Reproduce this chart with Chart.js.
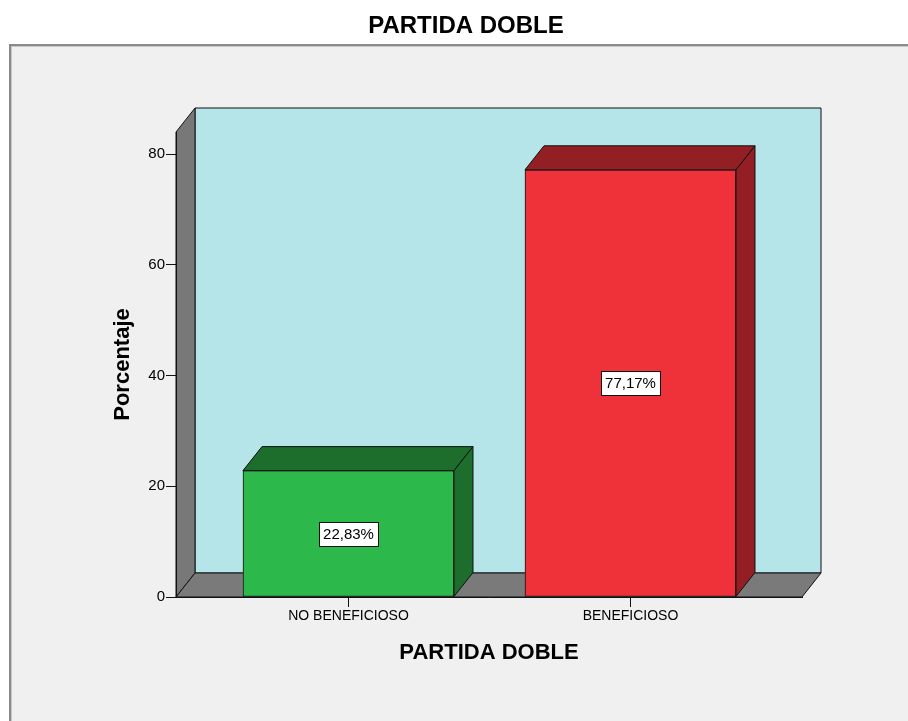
<!DOCTYPE html>
<html>
<head>
<meta charset="utf-8">
<script src="https://cdn.jsdelivr.net/npm/chart.js@4/dist/chart.umd.min.js"></script>
<style>
  body { margin: 0; background: #ffffff; }
  #wrap { width: 908px; height: 721px; }
</style>
</head>
<body>
<div id="wrap"><canvas id="myChart"></canvas></div>
<script>
var categorias = ['NO BENEFICIOSO', 'BENEFICIOSO'];
var porcentajes = [22.83, 77.17];
var colorFrente = ['#2db84b', '#ef323a'];
var colorLado = ['#1d6d2d', '#931e24'];
var yTicks = [0, 20, 40, 60, 80];

// profundidad del efecto 3D
var dx = 19, dy = 24;
var fuente = '"Liberation Sans", Arial, sans-serif';

function poly(ctx, pts, fill) {
    ctx.beginPath();
    ctx.moveTo(pts[0][0], pts[0][1]);
    for (var i = 1; i < pts.length; i++) ctx.lineTo(pts[i][0], pts[i][1]);
    ctx.closePath();
    ctx.fillStyle = fill;
    ctx.fill();
    ctx.stroke();
}

var fondo3d = {
    id: 'fondo3d',
    beforeDraw: function(chart) {
        var ctx = chart.ctx;
        var a = chart.chartArea;
        ctx.save();
        ctx.fillStyle = '#ffffff';
        ctx.fillRect(0, 0, chart.width, chart.height);
        // panel gris exterior
        ctx.fillStyle = '#f0f0f0';
        ctx.fillRect(9, 44, chart.width - 9, chart.height - 44);
        ctx.fillStyle = '#8a8a8a';
        ctx.fillRect(9, 44, chart.width - 9, 2);
        ctx.fillRect(9, 44, 2, chart.height - 44);
        ctx.fillStyle = '#c8c8c8';
        ctx.fillRect(11, 46, chart.width - 11, 1);
        ctx.fillRect(11, 46, 1, chart.height - 46);

        ctx.strokeStyle = '#111111';
        ctx.lineWidth = 1;
        // pared del fondo
        poly(ctx, [[a.left + dx, a.top - dy], [a.right + dx, a.top - dy], [a.right + dx, a.bottom - dy], [a.left + dx, a.bottom - dy]], '#b5e5e8');
        // pared izquierda
        poly(ctx, [[a.left, a.top], [a.left + dx, a.top - dy], [a.left + dx, a.bottom - dy], [a.left, a.bottom]], '#787878');
        // suelo
        poly(ctx, [[a.left, a.bottom], [a.left + dx, a.bottom - dy], [a.right + dx, a.bottom - dy], [a.right, a.bottom]], '#7a7a7a');
        ctx.restore();
    },
    afterDatasetsDraw: function(chart) {
        var ctx = chart.ctx;
        var meta = chart.getDatasetMeta(0);
        ctx.save();
        ctx.strokeStyle = '#111111';
        ctx.lineWidth = 1;
        meta.data.forEach(function(bar, i) {
            var l = bar.x - bar.width / 2, r = bar.x + bar.width / 2;
            var t = bar.y, b = bar.base;
            poly(ctx, [[l, t], [l + dx, t - dy], [r + dx, t - dy], [r, t]], colorLado[i]);
            poly(ctx, [[r, t], [r + dx, t - dy], [r + dx, b - dy], [r, b]], colorLado[i]);

            // etiqueta con el porcentaje
            var txt = porcentajes[i].toFixed(2).replace('.', ',') + '%';
            ctx.font = '15px ' + fuente;
            var w = Math.round(ctx.measureText(txt).width + 8);
            var cy = (t + b) / 2;
            var bx = Math.round(bar.x - w / 2) + 0.5, by = Math.round(cy - 12) + 0.5;
            ctx.fillStyle = '#ffffff';
            ctx.fillRect(bx, by, w, 24);
            ctx.strokeRect(bx, by, w, 24);
            ctx.fillStyle = '#000000';
            ctx.textAlign = 'center';
            ctx.textBaseline = 'middle';
            ctx.fillText(txt, bar.x, cy + 1);
        });
        ctx.restore();
    }
};

const ctx = document.getElementById('myChart');
chart = new Chart(ctx, {
    type: 'bar',
    data: {
        datasets: [{
            label: 'Porcentaje',
            data: porcentajes.map(function(v, i) { return { x: i + 1, y: v }; }),
            backgroundColor: colorFrente,
            borderColor: '#111111',
            borderWidth: 1,
            borderSkipped: false,
            barThickness: 211
        }]
    },
    options: {
        responsive: true,
        maintainAspectRatio: false,
        animation: false,
        layout: {
            padding: { left: 24, right: 0, top: 0, bottom: 0 }
        },
        plugins: {
            legend: { display: false },
            tooltip: { enabled: false },
            title: {
                display: true,
                text: 'PARTIDA DOBLE',
                color: '#000000',
                font: { family: fuente, size: 24, weight: 'bold' },
                padding: { top: 12, bottom: 91.2 }
            }
        },
        scales: {
            x: {
                type: 'linear',
                min: 0.3883,
                max: 2.6082,
                offset: false,
                afterBuildTicks: function(axis) {
                    axis.ticks = categorias.map(function(c, i) { return { value: i + 1 }; });
                },
                afterFit: function(scale) { scale.height = 124; },
                ticks: {
                    color: '#000000',
                    padding: 1,
                    maxRotation: 0,
                    font: { family: fuente, size: 14 },
                    callback: function(val) { return categorias[val - 1]; }
                },
                grid: {
                    display: true,
                    offset: false,
                    drawOnChartArea: false,
                    color: '#111111',
                    tickLength: 10
                },
                border: { display: true, color: '#111111' },
                title: {
                    display: true,
                    text: 'PARTIDA DOBLE',
                    color: '#000000',
                    font: { family: fuente, size: 22, weight: 'bold' },
                    padding: { top: 0, bottom: 54.8 }
                }
            },
            y: {
                min: 0,
                max: 84,
                afterBuildTicks: function(axis) {
                    axis.ticks = yTicks.map(function(v) { return { value: v }; });
                },
                afterFit: function(scale) { scale.width = 152; },
                ticks: {
                    color: '#000000',
                    padding: 1,
                    font: { family: fuente, size: 15 }
                },
                grid: {
                    display: true,
                    drawOnChartArea: false,
                    color: '#111111',
                    tickLength: 10
                },
                border: { display: true, color: '#111111' },
                title: {
                    display: true,
                    text: 'Porcentaje',
                    color: '#000000',
                    font: { family: fuente, size: 22, weight: 'bold' },
                    padding: { top: 85.8, bottom: 0 }
                }
            },
            margen: {
                position: 'right',
                display: true,
                afterFit: function(scale) { scale.width = 106; },
                ticks: { display: false },
                grid: { display: false },
                border: { display: false }
            }
        }
    },
    plugins: [fondo3d]
});
</script>
</body>
</html>
